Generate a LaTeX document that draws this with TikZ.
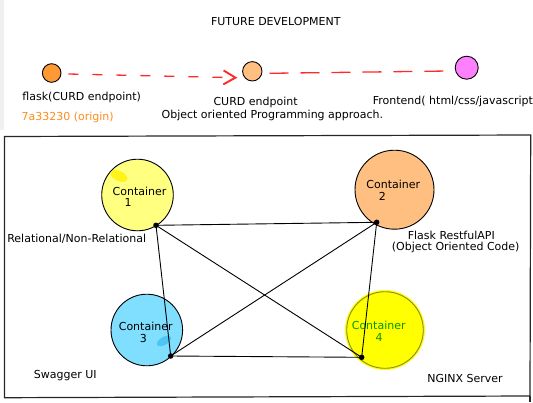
\documentclass[tikz,border=0pt]{standalone}
\usepackage{fontspec}
\setmainfont{DejaVu Sans}
\usetikzlibrary{arrows.meta}
\definecolor{cOrange}{HTML}{FF9933}
\definecolor{cLightOrange}{HTML}{FFBF80}
\definecolor{cMagenta}{HTML}{FF80FF}
\definecolor{cYellowLight}{HTML}{FFFF80}
\definecolor{cCyan}{HTML}{80DFFF}
\definecolor{cYellow}{HTML}{FFFF00}
\definecolor{cOlive}{HTML}{8A8A2A}
\definecolor{cGreen}{HTML}{009900}
\definecolor{cRed}{HTML}{FF2A2A}
\definecolor{cOrangeText}{HTML}{FF8C1A}
\tikzset{
  lbl/.style={font=\fontsize{11}{12}\selectfont, inner sep=0pt, text=black},
  smallc/.style={circle, draw=black, line width=0.9pt, inner sep=0pt},
  bigc/.style={circle, draw=black, line width=0.9pt, inner sep=0pt},
  dot/.style={circle, fill=black, inner sep=0pt, minimum size=5.5pt},
  conn/.style={draw=black, line width=0.9pt},
  reddash/.style={draw=cRed, line width=1.3pt},
}
\begin{document}
\begin{tikzpicture}[x=1pt,y=-1pt]
\useasboundingbox (0,0) rectangle (533,402);
\fill[black!6] (0,0) rectangle (3.5,130);

% top row
\node[lbl] (title) at (275.8,21) {FUTURE DEVELOPMENT};
\node[smallc, fill=cOrange, minimum size=18.6pt] (flask) at (51.7,73) {};
\node[smallc, fill=cLightOrange, minimum size=19.4pt] (curd) at (252.3,71.3) {};
\node[smallc, fill=cMagenta, minimum size=23pt] (front) at (466.7,67.7) {};
\coordinate (a1s) at (68.3,74);
\coordinate (a1e) at (237.3,77.7);
\coordinate (a2s) at (269.5,73.3);
\coordinate (a2e) at (448.3,71);
\draw[reddash, dash pattern=on 10pt off 14pt, -{Straight Barb[length=12pt,width=14pt,line width=1.9pt]}] (a1s) -- (a1e);
\draw[reddash, dash pattern=on 19pt off 12pt] (a2s) -- (a2e);
\node[lbl] (lflask) at (81.7,97.7) {flask(CURD endpoint)};
\node[lbl, text=cOrangeText] (lorig) at (67.7,117.5) {7a33230 (origin)};
\node[lbl] (lcurd) at (255.6,102.3) {CURD endpoint};
\node[lbl] (loop) at (272.4,115) {Object oriented Programming approach.};
\node[lbl, anchor=west] (lfront) at (372.7,101) {Frontend( html/css/javascript};

% frame
\draw[line width=1.2pt, draw=black!85] (4.5,136.5) -- (530.7,135) -- (530,396) -- (4.5,397.7) -- cycle;
\draw[line width=1.2pt, draw=black!85] (530,396) -- (530,402);

% containers
\node[bigc, fill=cYellowLight, minimum size=71.6pt] (c1) at (137.5,195) {};
\fill[yellow!90!white, rotate around={-25:(119,176)}] (119,176) ellipse (9pt and 5pt);
\node[bigc, fill=cLightOrange, minimum size=79pt] (c2) at (394.5,189.7) {};
\node[bigc, fill=cCyan, minimum size=71.6pt] (c3) at (146.8,330) {};
\fill[cyan!70!white, rotate around={30:(164,341)}] (164,341) ellipse (8pt and 4pt);
\fill[cYellow] (385,330) circle (40);
\node[bigc, draw=cOlive, fill=cYellow, minimum size=76.6pt] (c4) at (385,330) {};

\node[lbl] at (139.5,191.3) {Container};
\node[lbl] at (128,202.7) {1};
\node[lbl] at (393.3,184.3) {Container};
\node[lbl] at (382.3,196.3) {2};
\node[lbl] at (145.7,326) {Container};
\node[lbl] at (143.3,338) {3};
\node[lbl, text=cGreen] at (378.7,325.3) {Container};
\node[lbl, text=cGreen] at (379,337) {4};

% dots
\node[dot] (d1) at (156,225.3) {};
\node[dot] (d2) at (376.7,222.3) {};
\node[dot] (d3) at (170.7,356) {};
\node[dot] (d4) at (361.7,357.3) {};

\draw[conn] (d1.center) -- (d2.center);
\draw[conn] (d1.center) -- (d3.center);
\draw[conn] (d1.center) -- (d4.center);
\draw[conn] (d2.center) -- (d3.center);
\draw[conn] (d2.center) -- (d4.center);
\draw[conn] (d3.center) -- (d4.center);

% labels
\node[lbl] (lrel) at (76.7,239) {Relational/Non-Relational};
\node[lbl] (lapi1) at (451.3,235.3) {Flask RestfulAPI};
\node[lbl] (lapi2) at (455.7,247.3) {(Object Oriented Code)};
\node[lbl] (lswag) at (65.2,376) {Swagger UI};
\node[lbl] (lngx) at (465,378.3) {NGINX Server};
\end{tikzpicture}
\end{document}
